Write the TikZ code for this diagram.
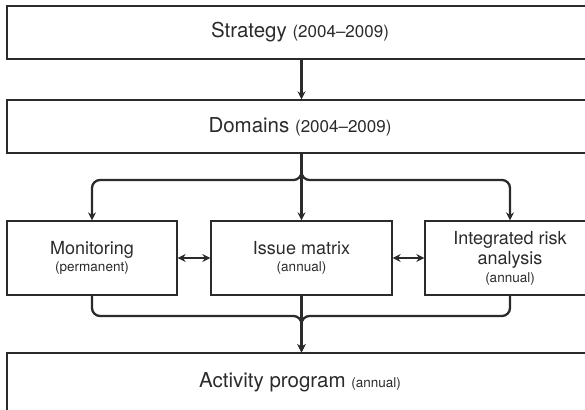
\documentclass[tikz,border=0pt]{standalone}
\usepackage{fontspec}
\setmainfont{TeX Gyre Heros}
\usetikzlibrary{arrows.meta}
\definecolor{ink}{HTML}{2B2B2B}
\newcommand{\bigtxt}{\fontsize{20.5}{24}\selectfont}
\newcommand{\yeartxt}{\fontsize{17}{19}\selectfont}
\newcommand{\midtxt}{\fontsize{18}{20}\selectfont}
\newcommand{\smalltxt}{\fontsize{13.5}{15}\selectfont}
\begin{document}
\begin{tikzpicture}[x=1pt,y=-1pt,
  box/.style={draw=ink, line width=1.3pt, inner sep=0pt, text=ink, align=center},
  widebox/.style={box, minimum width=586pt, minimum height=53pt, font=\bigtxt},
  midbox/.style={box, minimum height=74pt, font=\midtxt},
  link/.style={draw=ink, line width=2.3pt, -{Stealth[length=8pt,width=8pt]}},
  twoway/.style={draw=ink, line width=2.3pt, {Stealth[length=8pt,width=8pt]}-{Stealth[length=8pt,width=8pt]}},
  branch/.style={link, rounded corners=8pt}]
\useasboundingbox (0,0) rectangle (585,409);

% top-level boxes (they run past the right margin)
\node[widebox] (strategy) at (300,32.5) {Strategy {\yeartxt (2004--2009)}};
\node[widebox] (domains) at (300,126.5) {Domains {\yeartxt (2004--2009)}};

% middle row
\node[midbox, minimum width=170pt] (monitor) at (92,258) {Monitoring\\[-3pt]{\smalltxt (permanent)}};
\node[midbox, minimum width=181pt] (issue) at (301.5,258) {Issue matrix\\[-3pt]{\smalltxt (annual)}};
\node[midbox, minimum width=170pt] (risk) at (510,258) {Integrated risk\\analysis\\[-2pt]{\smalltxt (annual)}};

% bottom box
\node[widebox, minimum height=58pt] (activity) at (300,382) {Activity program {\smalltxt (annual)}};

% split and merge points
\coordinate (split) at (301.5,180);
\coordinate (merge) at (301.5,316);

\draw[link] (strategy.south -| issue.north) -- (domains.north -| issue.north);

\draw[link] (domains.south -| issue.north) -- (issue.north);
\draw[branch] (domains.south -| issue.north) |- (monitor.north |- split) -- (monitor.north);
\draw[branch] (domains.south -| issue.north) |- (risk.north |- split) -- (risk.north);

\draw[twoway] (monitor.east) -- (issue.west);
\draw[twoway] (issue.east) -- (risk.west);

\draw[branch] (monitor.south) |- (merge) -- (activity.north -| merge);
\draw[branch] (risk.south) |- (merge) -- (activity.north -| merge);
\draw[link] (issue.south) -- (activity.north -| issue.south);
\end{tikzpicture}
\end{document}
